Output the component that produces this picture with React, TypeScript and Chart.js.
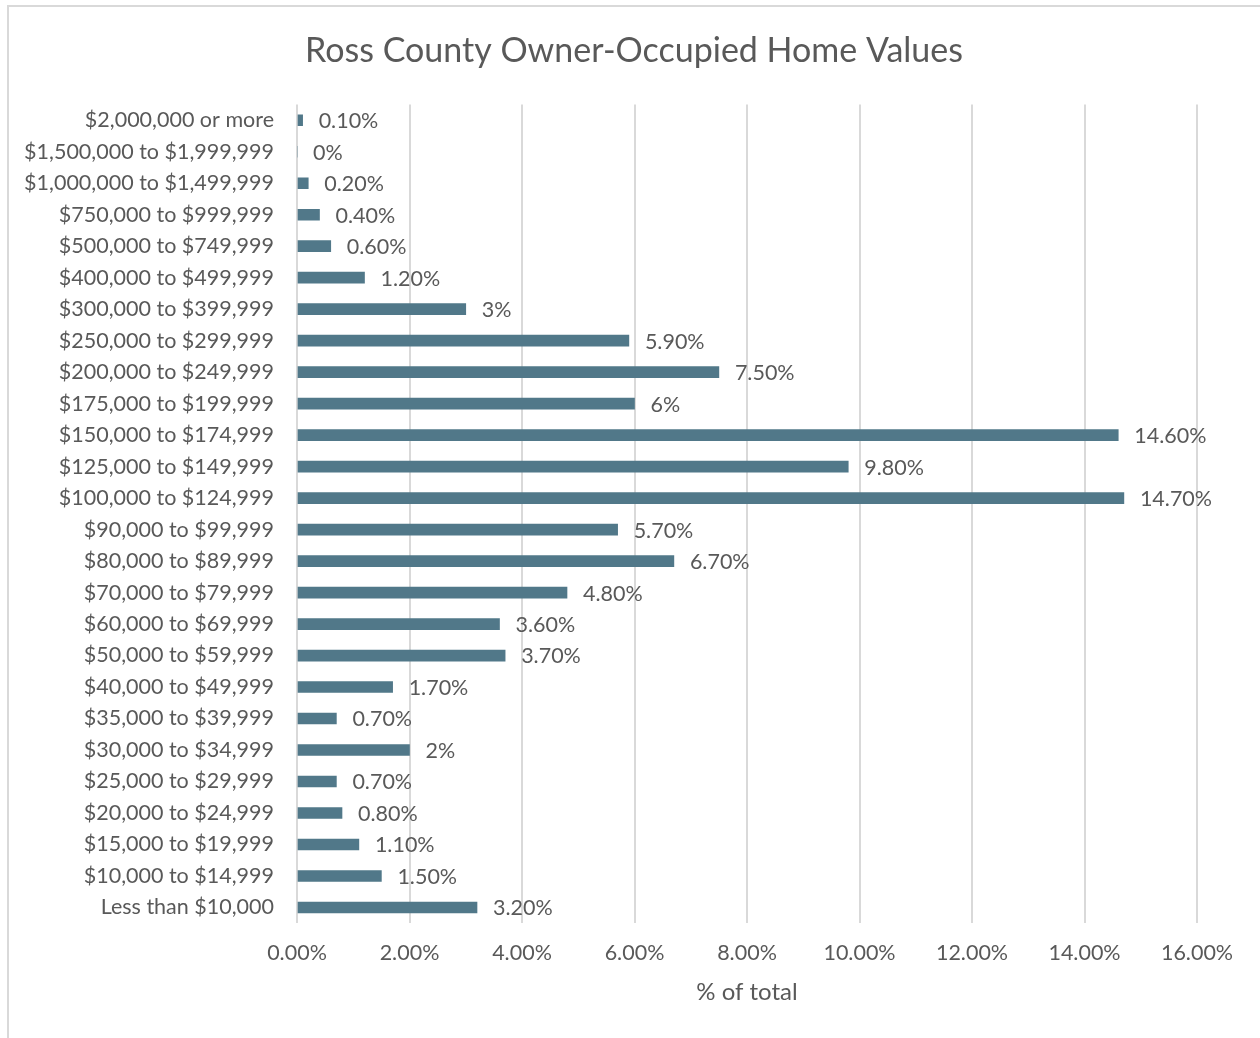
import React, { useEffect, useRef } from "react";
import { Chart, registerables } from "chart.js";

Chart.register(...registerables);

const TITLE = "Ross County Owner-Occupied Home Values";
const AXIS_TITLE = "% of total";

const categories = [
  "$2,000,000 or more",
  "$1,500,000 to $1,999,999",
  "$1,000,000 to $1,499,999",
  "$750,000 to $999,999",
  "$500,000 to $749,999",
  "$400,000 to $499,999",
  "$300,000 to $399,999",
  "$250,000 to $299,999",
  "$200,000 to $249,999",
  "$175,000 to $199,999",
  "$150,000 to $174,999",
  "$125,000 to $149,999",
  "$100,000 to $124,999",
  "$90,000 to $99,999",
  "$80,000 to $89,999",
  "$70,000 to $79,999",
  "$60,000 to $69,999",
  "$50,000 to $59,999",
  "$40,000 to $49,999",
  "$35,000 to $39,999",
  "$30,000 to $34,999",
  "$25,000 to $29,999",
  "$20,000 to $24,999",
  "$15,000 to $19,999",
  "$10,000 to $14,999",
  "Less than $10,000",
];

const values = [
  0.1, 0, 0.2, 0.4, 0.6, 1.2, 3, 5.9, 7.5, 6, 14.6, 9.8, 14.7, 5.7, 6.7, 4.8,
  3.6, 3.7, 1.7, 0.7, 2, 0.7, 0.8, 1.1, 1.5, 3.2,
];

const X_MIN = 0;
const X_MAX = 16;
const X_STEP = 2;

const FONT = "Lato, 'Open Sans', sans-serif";
const TEXT = "#595959";

function fmt(v: number): string {
  return Number.isInteger(v) ? `${v}%` : `${v.toFixed(2)}%`;
}

const textPlugin = {
  id: "texts",
  afterDatasetsDraw(chart: any) {
    const ctx = chart.ctx;
    const area = chart.chartArea;
    const meta = chart.getDatasetMeta(0);
    ctx.save();
    ctx.fillStyle = TEXT;
    ctx.textBaseline = "middle";
    // data labels
    ctx.font = `21.5px ${FONT}`;
    ctx.textAlign = "left";
    meta.data.forEach((bar: any, i: number) => {
      ctx.fillText(fmt(values[i]), bar.x + 16, bar.y + 1);
    });
    // chart title
    ctx.textAlign = "center";
    ctx.font = `34px ${FONT}`;
    ctx.fillText(TITLE, chart.width / 2, area.top - 53);
    // axis title
    ctx.font = `24px ${FONT}`;
    ctx.fillText(AXIS_TITLE, (area.left + area.right) / 2, area.bottom + 69);
    ctx.restore();
  },
};

export default function App() {
  const ref = useRef<HTMLCanvasElement | null>(null);

  useEffect(() => {
    if (!ref.current) return;
    const chart = new Chart(ref.current, {
      type: "bar",
      data: {
        labels: categories,
        datasets: [
          {
            data: values,
            backgroundColor: "#517889",
            barThickness: 11,
          },
        ],
      },
      options: {
        indexAxis: "y",
        animation: false,
        responsive: false,
        maintainAspectRatio: false,
        layout: { padding: { left: 0, right: 63, top: 98.5, bottom: 55 } },
        plugins: {
          legend: { display: false },
          tooltip: { enabled: false },
          title: { display: false },
        },
        scales: {
          x: {
            min: X_MIN,
            max: X_MAX,
            ticks: {
              stepSize: X_STEP,
              color: TEXT,
              font: { family: FONT, size: 21.5 },
              padding: 17,
              maxRotation: 0,
              callback: (v: any) => `${Number(v).toFixed(2)}%`,
            },
            grid: { color: "#d9d9d9", lineWidth: 2, drawTicks: false },
            border: { display: false },
          },
          y: {
            ticks: {
              color: TEXT,
              font: { family: FONT, size: 21.5 },
              padding: 23,
              autoSkip: false,
            },
            grid: { display: false, drawTicks: false },
            border: { display: false },
            afterFit: (scale: any) => {
              scale.width = 289;
            },
          },
        },
      },
      plugins: [textPlugin],
    });
    return () => chart.destroy();
  }, []);

  return (
    <div
      style={{
        position: "absolute",
        left: 0,
        top: 0,
        width: 1260,
        height: 1038,
        background: "#fff",
        overflow: "hidden",
      }}
    >
      <div
        style={{
          position: "absolute",
          left: 7,
          top: 5,
          width: 1260,
          height: 1035,
          border: "2px solid #d9d9d9",
          boxSizing: "border-box",
        }}
      />
      <canvas
        ref={ref}
        width={1252}
        height={1032}
        style={{ position: "absolute", left: 8, top: 6, width: 1252, height: 1032 }}
      />
    </div>
  );
}
